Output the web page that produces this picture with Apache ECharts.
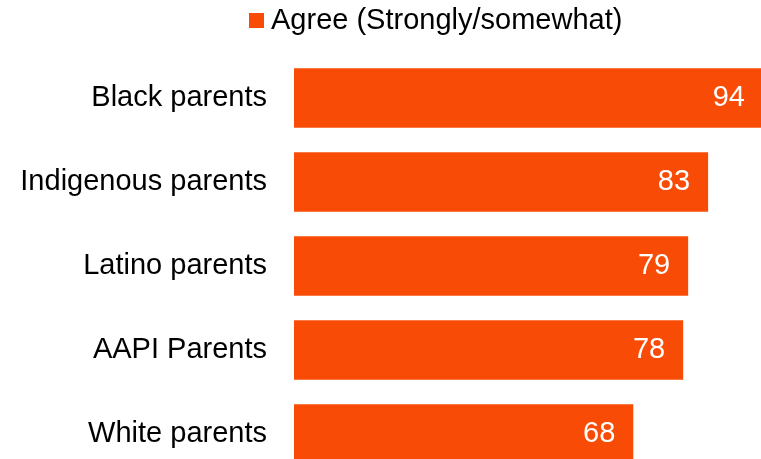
<!DOCTYPE html>
<html>
<head>
<meta charset="utf-8">
<script src="https://cdn.jsdelivr.net/npm/echarts@6/dist/echarts.min.js"></script>
<style>html,body{margin:0;padding:0;background:#fff;overflow:hidden}#c{width:763px;height:476px}</style>
</head>
<body>
<div id="c"></div>
<script>
const categories = ['Black parents', 'Indigenous parents', 'Latino parents', 'AAPI Parents', 'White parents'];
const seriesName = 'Agree (Strongly/somewhat)';
const agreeValues = [94, 83, 79, 78, 68];

const chart = echarts.init(document.getElementById('c'), null, {renderer: 'canvas'});
const FONT = "'Liberation Sans', Arial, sans-serif";
chart.setOption({
  animation: false,
  backgroundColor: '#ffffff',
  legend: {
    data: [seriesName],
    left: 249,
    top: 6,
    padding: 0,
    itemWidth: 15,
    itemHeight: 15,
    icon: 'rect',
    textStyle: {fontSize: 29, color: '#000', fontFamily: FONT, padding: [0, 0, 6, 2]}
  },
  grid: {left: 294, right: 0, top: 56, bottom: 0, containLabel: false},
  xAxis: {
    type: 'value', min: 0, max: 94, show: false
  },
  yAxis: {
    type: 'category',
    data: categories,
    inverse: true,
    axisLine: {show: false},
    axisTick: {show: false},
    splitLine: {show: false},
    axisLabel: {fontSize: 29, color: '#000', fontFamily: FONT, margin: 27}
  },
  series: [{
    name: seriesName,
    type: 'bar',
    data: agreeValues,
    barCategoryGap: '29%',
    itemStyle: {color: '#F84C06'},
    label: {
      show: true,
      position: 'insideRight',
      distance: 18,
      color: '#fff',
      fontSize: 29,
      fontFamily: FONT
    }
  }]
});
</script>
</body>
</html>
